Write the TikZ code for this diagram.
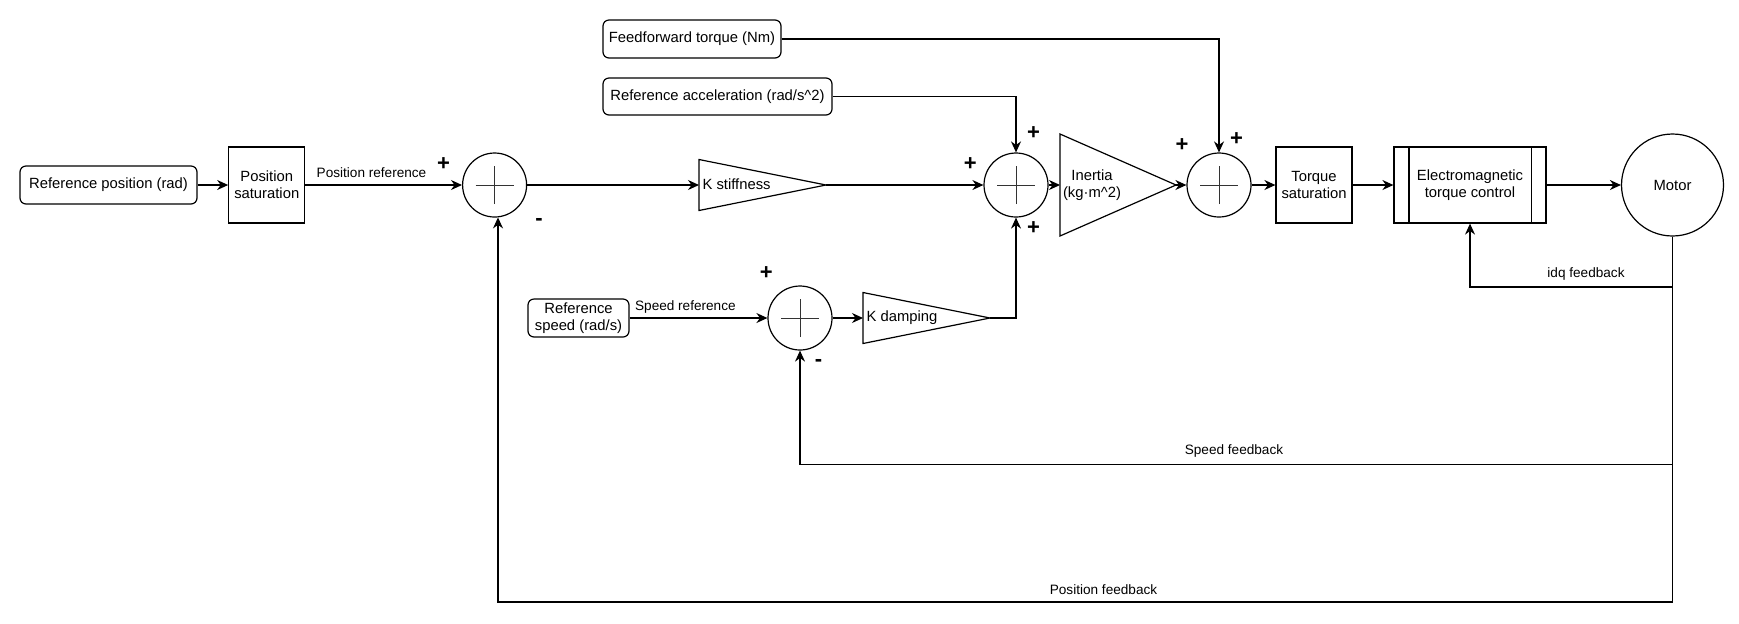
\documentclass[tikz,border=0pt]{standalone}
\usepackage{fontspec}
\setmainfont{Liberation Sans}
\usetikzlibrary{arrows.meta,calc}
\begin{document}
\begin{tikzpicture}[x=0.5pt,y=-0.5pt, line width=0.6pt,
  box/.style={draw, rectangle, align=center, inner sep=0pt, font=\fontsize{7.4}{8.6}\selectfont},
  rbox/.style={box, rounded corners=3pt},
  sumnode/.style={draw, circle, minimum size=32pt, inner sep=0pt,
    path picture={\draw[line width=0.5pt,black!80] ([xshift=-9.5pt]path picture bounding box.center) -- ([xshift=9.5pt]path picture bounding box.center)
      ([yshift=-9.5pt]path picture bounding box.center) -- ([yshift=9.5pt]path picture bounding box.center);}},
  arr/.style={-{Stealth[length=5.5pt,width=5pt]}},
  lbl/.style={font=\fontsize{6.8}{8}\selectfont, inner sep=0pt},
  txt/.style={font=\fontsize{7.4}{8.6}\selectfont, inner sep=0pt, align=center},
  sgn/.style={font=\bfseries\fontsize{11}{11}\selectfont, inner sep=0pt}]
\useasboundingbox (0,0) rectangle (1739,623);

% nodes
\node[rbox, minimum width=88.5pt, minimum height=19pt] (rp) at (108.5,185) {Reference position (rad)};
\node[box, minimum width=38pt, minimum height=38pt] (ps) at (266.75,185) {Position\\saturation};
\node[sumnode] (s1) at (494.6,185) {};
\node[rbox, minimum width=89pt, minimum height=19pt] (ff) at (692,39) {Feedforward torque (Nm)};
\node[rbox, minimum width=114.5pt, minimum height=18.5pt] (ra) at (717.5,96.5) {Reference acceleration (rad/s\^{}2)};
\node[sumnode] (s2) at (1016,185) {};
\node[sumnode] (s3) at (1219,185) {};
\node[box, minimum width=38pt, minimum height=38pt] (ts) at (1314,185) {Torque\\saturation};
\node[box, minimum width=76pt, minimum height=38pt] (em) at (1470,185) {Electromagnetic\\torque control};
\draw ([xshift=7.75pt]em.north west) -- ([xshift=7.75pt]em.south west)
      ([xshift=-7.75pt]em.north east) -- ([xshift=-7.75pt]em.south east);
\node[draw, circle, minimum size=51pt, inner sep=0pt, font=\fontsize{7.4}{8.6}\selectfont] (motor) at (1672.5,185) {Motor};
\node[rbox, minimum width=50.5pt, minimum height=19pt] (rs) at (578.5,318) {Reference\\speed (rad/s)};
\node[sumnode] (s4) at (800,318) {};

% triangles
\draw (699,159.5) -- (826,185) -- (699,210.5) -- cycle;
\coordinate (kst-in) at (699,185);
\coordinate (kst-out) at (826,185);
\node[txt, anchor=west] (kstl) at (702,184) {K stiffness};

\draw (1060,134) -- (1176,185) -- (1060,236) -- cycle;
\coordinate (in-in) at (1060,185);
\coordinate (in-out) at (1176,185);
\node[txt] (inl) at (1092,185) {Inertia\\(kg·m\^{}2)};

\draw (863,292.5) -- (990,318) -- (863,343.5) -- cycle;
\coordinate (kd-in) at (863,318);
\coordinate (kd-out) at (990,318);
\node[txt, anchor=west] (kdl) at (866,318) {K damping};

% forward connectors
\draw[arr] (rp) -- (ps);
\draw[arr] (ps) -- (s1);
\draw[arr] (s1) -- (kst-in);
\draw[arr] (kst-out) -- (s2);
\draw[arr] (s2) -- (in-in);
\draw[arr] (in-out) -- (s3);
\draw[arr] (s3) -- (ts);
\draw[arr] (ts) -- (em);
\draw[arr] (em) -- (motor);
\draw[arr] (ff.east) -| (s3.north);
\draw[arr] (ra.east) -| (s2.north);
\draw[arr] (rs) -- (s4);
\draw[arr] (s4) -- (kd-in);
\draw[arr] (kd-out) -| (s2.south);

% feedback
\coordinate (yi) at (0,287);
\coordinate (ys) at (0,464.7);
\coordinate (yp) at (0,602);
\draw[arr] (motor.south) |- (em.south |- yi) -- (em.south);
\draw[arr] (motor.south) |- (s4.south |- ys) -- (s4.south);
\draw[arr] (motor.south) |- (s1.-84 |- yp) -- (s1.-84);

% labels
\node[lbl] (lpr) at (371.5,173) {Position reference};
\node[lbl] (lsr) at (685.4,307) {Speed reference};
\node[lbl] (lidq) at (1586,274) {idq feedback};
\node[lbl] (lsf) at (1234,451) {Speed feedback};
\node[lbl] (lpf) at (1103.5,590) {Position feedback};

% signs
\node[sgn] at (443.6,164) {+};
\node[sgn] at (539,222) {-};
\node[sgn] at (1033.6,133) {+};
\node[sgn] at (970.4,164) {+};
\node[sgn] at (1033.6,228.5) {+};
\node[sgn] at (1182,145) {+};
\node[sgn] at (1236.6,138.6) {+};
\node[sgn] at (766.4,273) {+};
\node[sgn] at (818.5,362.7) {-};
\end{tikzpicture}
\end{document}
